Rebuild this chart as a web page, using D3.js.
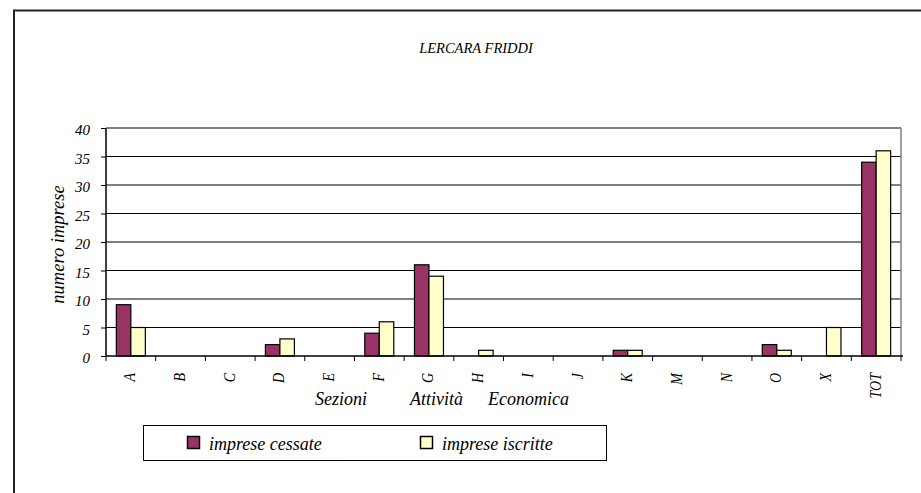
<!DOCTYPE html>
<html><head><meta charset="utf-8">
<script src="https://cdn.jsdelivr.net/npm/d3@7"></script>
<style>body{margin:0;background:#fff;}</style></head>
<body>
<svg id="c" width="921" height="493"></svg>
<script>
const categories = ["A","B","C","D","E","F","G","H","I","J","K","M","N","O","X","TOT"];
const cessate   = [9,0,0,2,0,4,16,0,0,0,1,0,0,2,0,34];
const iscritte  = [5,0,0,3,0,6,14,1,0,0,1,0,0,1,5,36];
const seriesNames = ["imprese cessate","imprese iscritte"];
const seriesColors = ["#993366","#FFFFCC"];
const yTicks = [0,5,10,15,20,25,30,35,40];
const xTitleWords = ["Sezioni","Attività","Economica"];

const FONT = '"Liberation Serif", Tinos, "Times New Roman", "DejaVu Serif", serif';
function applyFont(sel, size){
  return sel.attr("font-family",FONT).style("font-family",FONT)
    .style("font-style","italic").style("font-size",size+"px").attr("fill","#000");
}

const svg = d3.select("#c");
const L=106, R=901, T=128, B=356;

// outer frame
svg.append("rect").attr("x",14).attr("y",10.5).attr("width",930).attr("height",500)
  .attr("fill","none").attr("stroke","#222").attr("stroke-width",2);

applyFont(svg.append("text").attr("x",476).attr("y",53).attr("text-anchor","middle"),14.5).text("LERCARA FRIDDI");

const x = d3.scaleBand().domain(categories).range([L,R]).padding(0);
const y = d3.scaleLinear().domain([0,40]).range([B,T]);
const x1 = d3.scaleBand().domain([0,1]).range([-14.5,14.5]).padding(0);

svg.append("g").selectAll("line").data(yTicks.filter(d=>d>0)).join("line")
  .attr("x1",L).attr("x2",R).attr("y1",d=>y(d)).attr("y2",d=>y(d))
  .attr("stroke","#000").attr("stroke-width",1);

svg.append("line").attr("x1",L).attr("x2",R).attr("y1",T).attr("y2",T).attr("stroke","#808080").attr("stroke-width",1.5);
svg.append("line").attr("x1",R).attr("x2",R).attr("y1",T).attr("y2",B).attr("stroke","#808080").attr("stroke-width",1.5);

const data = categories.map((c,i)=>({c, v:[cessate[i], iscritte[i]]}));
const g = svg.append("g");
data.forEach(d=>{
  d.v.forEach((v,j)=>{
    if(v<=0) return;
    g.append("rect")
      .attr("x", x(d.c)+x.bandwidth()/2 + x1(j))
      .attr("y", y(v))
      .attr("width", x1.bandwidth())
      .attr("height", y(0)-y(v))
      .attr("fill", seriesColors[j]).attr("stroke","#000").attr("stroke-width",1.2);
  });
});

const yAxis = d3.axisLeft(y).tickValues(yTicks).tickSize(5).tickPadding(11);
const ya = svg.append("g").attr("transform",`translate(${L},0)`).call(yAxis);
ya.attr("font-family",FONT);
ya.select(".domain").attr("stroke","#000").attr("stroke-width",1.5).attr("d",`M0,${B}V${T}`);
applyFont(ya.selectAll("text").attr("dy","0.45em"),15);

const xa = svg.append("g").attr("transform",`translate(0,${B})`);
xa.append("line").attr("x1",L).attr("x2",R+2).attr("y1",0).attr("y2",0).attr("stroke","#000").attr("stroke-width",1.5);
const bounds = categories.map(c=>x(c)).concat([R]);
xa.selectAll("line.tk").data(bounds).join("line").attr("class","tk")
  .attr("x1",d=>d).attr("x2",d=>d).attr("y1",0).attr("y2",5).attr("stroke","#000");
applyFont(xa.selectAll("text.lbl").data(categories).join("text").attr("class","lbl")
  .attr("transform",d=>`translate(${x(d)+x.bandwidth()/2+4.5},17) scale(1.15,1) rotate(-90)`)
  .attr("text-anchor","end"),14).text(d=>d);

applyFont(svg.append("text").attr("transform","translate(64,244.5) rotate(-90)").attr("text-anchor","middle"),18.5)
  .text("numero imprese");
const xTitleX = [315,410,488];
xTitleWords.forEach((w,i)=>{
  applyFont(svg.append("text").attr("x",xTitleX[i]).attr("y",405),18).text(w);
});

svg.append("rect").attr("x",143.5).attr("y",425.5).attr("width",463).attr("height",35)
  .attr("fill","none").attr("stroke","#000");
const legX = [187, 420];
seriesNames.forEach((n,i)=>{
  svg.append("rect").attr("x",legX[i]+0.5).attr("y",436.5).attr("width",12).attr("height",12)
    .attr("fill",seriesColors[i]).attr("stroke","#000").attr("stroke-width",1.5);
  applyFont(svg.append("text").attr("x",legX[i]+22).attr("y",449.5),18).text(n);
});
</script>
</body></html>
